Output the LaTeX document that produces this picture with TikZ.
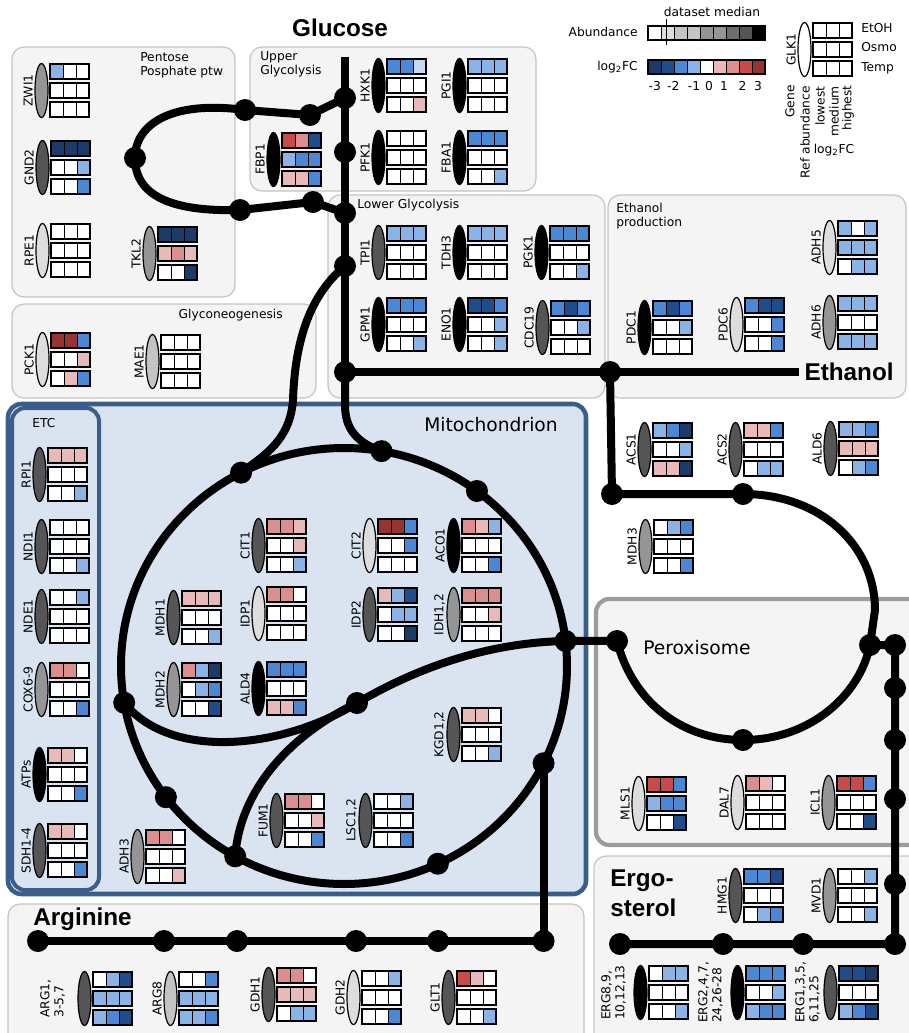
\documentclass[tikz,border=0pt]{standalone}
\usepackage{fontspec}
\setmainfont{DejaVu Sans}
\newfontfamily\headfont{Liberation Sans}
\usetikzlibrary{shapes.geometric,calc}

% log2FC colours
\definecolor{fcN}{HTML}{1B3A66}
\definecolor{fcB}{HTML}{1F4C8A}
\definecolor{fcM}{HTML}{4A87D5}
\definecolor{fcL}{HTML}{8CB3E6}
\definecolor{fcV}{HTML}{C6D9F1}
\definecolor{fcW}{HTML}{FFFFFF}
\definecolor{fcP}{HTML}{E8B9B9}
\definecolor{fcR}{HTML}{DC8E8E}
\definecolor{fcS}{HTML}{C64C4C}
\definecolor{fcD}{HTML}{963434}
% abundance greys
\definecolor{ab1}{HTML}{DDDDDD}
\definecolor{ab2}{HTML}{C4C4C4}
\definecolor{ab4}{HTML}{959595}
\definecolor{ab6}{HTML}{6E6E6E}
\definecolor{ab7}{HTML}{555555}
% compartments
\definecolor{panelfill}{HTML}{F4F4F4}
\definecolor{paneldraw}{HTML}{C4C4C4}
\definecolor{mitofill}{HTML}{DAE4F1}
\definecolor{mitodraw}{HTML}{3A5E8C}
\definecolor{peroxdraw}{HTML}{9C9C9C}

\newcommand{\genefont}{\fontsize{9.2}{10.5}\selectfont}
\newcommand{\compfont}{\fontsize{14}{16}\selectfont}
\newcommand{\bigtitle}{\fontsize{18.2}{22.5}\selectfont\headfont\bfseries}

\tikzset{
  panel/.style={draw=paneldraw, fill=panelfill, line width=0.9pt, rounded corners=9pt},
  mito/.style={draw=mitodraw, fill=mitofill, line width=3.4pt, rounded corners=10pt},
  perox/.style={draw=peroxdraw, fill=panelfill, line width=3.2pt, rounded corners=10pt},
  pathway/.style={line width=6pt, line join=round},
  dot/.style={circle, fill=black, inner sep=0pt, minimum size=16.5pt},
  gellipse/.style={ellipse, draw=black, line width=0.9pt, minimum width=9.75pt,
    minimum height=40.5pt, inner sep=0pt},
  glabel/.style={rotate=90, anchor=south, inner sep=0pt, align=left},
  cellline/.style={draw=black, line width=0.6pt},
  rowline/.style={draw=black, line width=1.1pt},
  title/.style={inner sep=0pt, align=left}
}

% gene: [label gap]{name}{x}{y}{label}{abundance}{row1}{row2}{row3}
\newcommand{\gene}[9][17]{%
  \node[gellipse, fill=#6] (#2) at (#3-8.5, #4+26.5) {};
  \node[glabel] (#2-lbl) at (#3-#1, #4+26.5) {#5};
  \foreach \row [count=\i from 0] in {{#7},{#8},{#9}} {
    \foreach \c [count=\j from 0] in \row
      \draw[cellline, fill=fc\c] (#3+13*\j, #4+19*\i) rectangle ++(13,15);
    \draw[rowline] (#3, #4+19*\i) rectangle ++(39,15);
  }%
}

\begin{document}
\begin{tikzpicture}[x=0.75pt, y=-0.75pt, font=\genefont]
\useasboundingbox (0,0) rectangle (909,1033);

% Compartments
\draw[panel] (12,47) rectangle (235,297);
\draw[panel] (250,47) rectangle (536,191);
\draw[panel] (328,195) rectangle (605,398);
\draw[panel] (608,195) rectangle (906,398);
\draw[panel] (12,304) rectangle (316,398);
\draw[mito] (8,404) rectangle (586,894);
\draw[mito, line width=3pt] (12,408) rectangle (99,890);
\draw[perox] (596,599) rectangle (930,845);
\draw[panel] (8,904) rectangle (584,1045);
\draw[panel] (594,856) rectangle (930,1045);

% Compartment titles
\node[title, anchor=north west] (ppp) at (140,52) {Pentose\\Posphate ptw};
\node[title, anchor=north west] (upg) at (260,51) {Upper\\Glycolysis};
\node[title, anchor=west] (lwg) at (357,205) {Lower Glycolysis};
\node[title, anchor=north west] (etp) at (616,203) {Ethanol\\production};
\node[title, anchor=east] (gng) at (283,315) {Glyconeogenesis};
\node[title] (etc) at (44,423) {ETC};
\node[title, font=\compfont] (mit) at (491,425) {Mitochondrion};
\node[title, font=\compfont, anchor=west] (pxs) at (643,648) {Peroxisome};

% Metabolites
\node[inner sep=0pt, font=\bigtitle] (glc) at (340,28) {Glucose};
\node[inner sep=4pt, anchor=west, font=\bigtitle] (etoh) at (799,372) {Ethanol};
\node[inner sep=0pt, anchor=west, font=\bigtitle] (arg) at (33,919) {Arginine};
\node[inner sep=0pt, anchor=north west, align=left, font=\bigtitle] (erg) at (610,870) {Ergo-\\sterol};

% Pathway junctions
\coordinate (glctop) at (345,57);
\coordinate (tca) at (344,666);
\foreach \n/\p in {g1/{345,98}, g2/{345,152}, g3/{345,213}, g4/{345,266}, g5/{345,372},
    p1/{310,115}, p2/{245,110}, p3/{135,158}, p4/{240,210}, p5/{313,202},
    e1/{610,372}, a1/{612,494}, a2/{743,494}, j1/{357,703},
    x1/{870,645}, x2/{617,641}, x3/{743,740}, x4/{895,645}, x5/{895,688},
    x6/{895,740}, x7/{895,799}, x8/{895,884}, x9/{895,944},
    s1/{620,944}, s2/{723,944}, s3/{803,944},
    r1/{38,941}, r2/{164,941}, r3/{237,941}, r4/{356,941}, r5/{438,941}}
  \node[dot] (\n) at (\p) {};
\foreach \n/\a in {c1/-80.3, c2/-53.4, c3/-6.6, c4/26.5, c5/65.1, c6/119.2,
    c7/143, c8/170.3, c9/-117.5}
  \node[dot] (\n) at ($(tca)+(\a:223 and 218)$) {};
\node[dot] (r6) at (c4 |- r1) {};

% Pathways
\draw[pathway] (glctop) -- (g5.center);
\draw[pathway] (g1.center) -- (p1.center) -- (p2.center)
  .. controls (170,100) and (135,125) .. (p3.center)
  .. controls (135,195) and (170,212) .. (p4.center) -- (p5.center) -- (g3.center);
\draw[pathway] (g4.center) .. controls (310,295) and (295,340) .. (293,400)
  .. controls (290,440) and (265,455) .. (c9.center);
\draw[pathway] (g5.center) -- (345,405) .. controls (345,430) and (358,443) .. (c1.center);
\draw[pathway] (g5.center) -- (e1.center) -- (etoh.west);
\draw[pathway] (tca) ellipse [x radius=223, y radius=218];
\draw[pathway] (c8.center) .. controls (170,760) and (280,750) .. (j1.center);
\draw[pathway] (c6.center) .. controls (240,790) and (290,735) .. (j1.center);
\draw[pathway] (j1.center) .. controls (410,672) and (480,643) .. (c3.center) -- (x2.center);
\draw[pathway] (e1.center) -- (a1.center) -- (a2.center)
  .. controls (820,494) and (875,545) .. (875,610) -- (x1.center);
\draw[pathway] (x2.center) .. controls (632,700) and (680,740) .. (x3.center)
  .. controls (810,740) and (860,695) .. (x1.center) -- (x4.center) -- (x9.center) -- (s1.center);
\draw[pathway] (c4.center) -- (r6.center) -- (r1.center);

% Legend
\node[inner sep=0pt] (median) at (712,12) {dataset median};
\node[inner sep=0pt, anchor=east] (abund) at (638,32) {Abundance};
\foreach \c [count=\j from 0] in {white,ab1,ab2,ab2,ab4,ab4,ab6,ab7,black}
  \draw[cellline, fill=\c] (648+13*\j,26) rectangle ++(13,14);
\draw[rowline] (648,26) rectangle ++(117,14);
\draw[line width=0.5pt] (666.7,19) -- (666.7,45);
\node[inner sep=0pt, anchor=east] (lfc) at (638,67) {log\textsubscript{2}FC};
\foreach \c [count=\j from 0] in {N,B,M,L,W,P,R,S,D}
  \draw[cellline, fill=fc\c] (648+13*\j,60) rectangle ++(13,14);
\draw[rowline] (648,60) rectangle ++(117,14);
\foreach \v/\x in {-3/654.7, -2/673.3, -1/694, 0/709, 1/724, 2/742.5, 3/758}
  \node[inner sep=0pt] (tick\x) at (\x,86) {\v};
\gene{glk}{813}{23}{GLK1}{white}{W,W,W}{W,W,W}{W,W,W}
\node[inner sep=0pt, anchor=west] (etoh-lg) at (861,28) {EtOH};
\node[inner sep=0pt, anchor=west] (osmo-lg) at (861,47) {Osmo};
\node[inner sep=0pt, anchor=west] (temp-lg) at (861,68) {Temp};
\node[rotate=90, anchor=east, inner sep=0pt] (gene-lg) at (790,85) {Gene};
\node[rotate=90, anchor=east, inner sep=0pt] (ref-lg) at (805,86) {Ref abundance};
\node[rotate=90, anchor=east, inner sep=0pt] (low-lg) at (820,86) {lowest};
\node[rotate=90, anchor=east, inner sep=0pt] (med-lg) at (834,86) {medium};
\node[rotate=90, anchor=east, inner sep=0pt] (high-lg) at (848,85) {highest};
\node[inner sep=0pt] (lfc-lg) at (834,150) {log\textsubscript{2}FC};

% Genes: pentose phosphate, glycolysis, ethanol
\gene{zwi}{50}{64}{ZWI1}{ab4}{L,W,W}{W,W,W}{W,W,W}
\gene{gnd}{51}{141}{GND2}{ab7}{N,N,N}{W,W,L}{W,W,M}
\gene{rpe}{51}{224}{RPE1}{ab1}{W,W,W}{W,W,W}{W,W,W}
\gene{tkl}{158}{227}{TKL2}{ab4}{N,N,N}{P,R,P}{W,W,N}
\gene{fbp}{282}{133}{FBP1}{black}{S,R,B}{L,M,M}{P,P,M}
\gene{hxk}{387}{59}{HXK1}{black}{M,M,V}{W,W,W}{W,W,P}
\gene{pgi}{468}{59}{PGI1}{black}{L,L,L}{W,W,W}{W,W,W}
\gene{pfk}{387}{131}{PFK1}{black}{W,W,W}{W,W,W}{W,W,W}
\gene{fba}{468}{131}{FBA1}{black}{M,M,M}{W,W,W}{W,W,L}
\gene{tpi}{387}{226}{TPI1}{ab7}{L,L,L}{W,W,W}{W,W,W}
\gene{tdh}{468}{226}{TDH3}{black}{L,L,L}{W,W,W}{W,W,W}
\gene{pgk}{550}{226}{PGK1}{black}{M,M,M}{W,W,W}{W,W,L}
\gene{gpm}{387}{298}{GPM1}{black}{M,M,M}{W,W,W}{W,W,L}
\gene{eno}{468}{298}{ENO1}{black}{B,B,M}{W,W,L}{W,W,L}
\gene{cdc}{551}{301}{CDC19}{ab7}{M,B,M}{W,W,L}{W,W,W}
\gene{pdca}{653}{301}{PDC1}{black}{M,B,M}{W,W,L}{W,W,W}
\gene{pdcb}{745}{298}{PDC6}{ab1}{M,B,B}{W,W,M}{W,W,M}
\gene{adha}{838}{221}{ADH5}{ab1}{L,W,L}{L,L,L}{W,L,L}
\gene{adhb}{838}{296}{ADH6}{ab4}{L,L,L}{W,W,W}{L,L,L}
\gene{pck}{51}{333}{PCK1}{ab1}{D,D,M}{W,W,P}{W,P,M}
\gene{mae}{161}{335}{MAE1}{ab2}{W,W,W}{W,W,W}{W,W,W}

% Genes: mitochondrion
\gene{rpi}{48}{448}{RPI1}{ab7}{P,P,P}{W,W,W}{W,W,L}
\gene{ndi}{50}{520}{NDI1}{ab7}{W,W,W}{W,W,W}{W,W,L}
\gene{nde}{50}{590}{NDE1}{ab7}{W,W,L}{W,W,W}{W,W,W}
\gene{cox}{50}{663}{COX6-9}{ab4}{R,R,W}{W,W,W}{W,W,M}
\gene{atp}{48}{748}{ATPs}{black}{P,P,W}{W,W,W}{W,W,M}
\gene{sdh}{48}{824}{SDH1-4}{ab7}{P,P,W}{W,W,W}{W,W,M}
\gene{cita}{267}{519}{CIT1}{ab7}{R,R,P}{W,W,P}{W,W,L}
\gene{mdha}{182}{591}{MDH1}{ab7}{P,P,P}{W,W,W}{W,W,L}
\gene{idpa}{267}{587}{IDP1}{ab1}{R,R,W}{W,W,W}{W,W,W}
\gene{mdhb}{182}{663}{MDH2}{ab4}{R,L,N}{W,L,M}{W,W,B}
\gene{aldd}{267}{662}{ALD4}{black}{M,M,M}{W,W,W}{P,P,M}
\gene{citb}{378}{519}{CIT2}{ab1}{D,D,M}{W,W,M}{W,W,W}
\gene{aco}{462}{519}{ACO1}{black}{R,P,L}{W,W,W}{W,W,M}
\gene{idpb}{378}{588}{IDP2}{ab7}{P,L,B}{W,L,L}{W,W,N}
\gene{idh}{462}{588}{IDH1,2}{ab4}{R,R,R}{W,W,P}{W,W,W}
\gene{kgd}{462}{708}{KGD1,2}{ab7}{P,P,W}{W,W,W}{W,W,L}
\gene{fum}{285}{794}{FUM1}{ab7}{R,R,W}{W,W,P}{W,W,M}
\gene{lsc}{374}{794}{LSC1,2}{ab7}{W,W,L}{W,W,W}{W,W,M}
\gene{adhc}{146}{830}{ADH3}{ab4}{R,R,W}{W,W,W}{W,W,P}

% Genes: acetate, peroxisome
\gene{acsa}{653}{423}{ACS1}{ab7}{L,M,N}{W,W,L}{P,P,N}
\gene{acsb}{744}{423}{ACS2}{ab7}{P,P,M}{W,W,W}{W,L,L}
\gene{alds}{839}{422}{ALD6}{ab7}{L,L,M}{P,P,P}{W,L,M}
\gene{mdhc}{654}{520}{MDH3}{ab4}{W,L,M}{W,W,W}{W,W,M}
\gene{mls}{647}{777}{MLS1}{ab1}{S,S,M}{L,M,M}{W,W,B}
\gene{dal}{746}{776}{DAL7}{ab1}{R,P,W}{W,W,W}{W,W,W}
\gene{icl}{837}{776}{ICL1}{ab4}{S,S,M}{W,W,W}{W,W,B}

% Genes: ergosterol
\gene{hmg}{744}{869}{HMG1}{ab7}{M,M,B}{W,W,W}{W,L,M}
\gene{mvd}{838}{869}{MVD1}{ab4}{W,W,L}{W,W,W}{W,W,L}
\gene[23]{ergc}{649}{966}{ERG8,9,\\10,12,13}{black}{W,L,L}{W,W,W}{W,W,L}
\gene[23]{ergb}{746}{966}{ERG2,4,7,\\24,26-28}{black}{M,M,M}{W,W,L}{L,M,M}
\gene[19]{erga}{839}{966}{ERG1,3,5,\\6,11,25}{ab7}{B,B,N}{W,W,W}{L,M,B}

% Genes: arginine
\gene[28]{arga}{93}{972}{ARG1,\\3-5,7}{ab7}{W,L,B}{L,L,L}{L,M,B}
\gene{argb}{179}{972}{ARG8}{ab2}{W,W,M}{L,L,L}{L,L,M}
\gene{gdha}{277}{968}{GDH1}{ab7}{R,R,W}{P,P,P}{W,L,L}
\gene{gdhb}{362}{971}{GDH2}{ab1}{W,W,L}{W,W,W}{W,W,M}
\gene{glt}{457}{971}{GLT1}{ab7}{S,P,W}{W,W,W}{W,W,L}
\end{tikzpicture}
\end{document}
